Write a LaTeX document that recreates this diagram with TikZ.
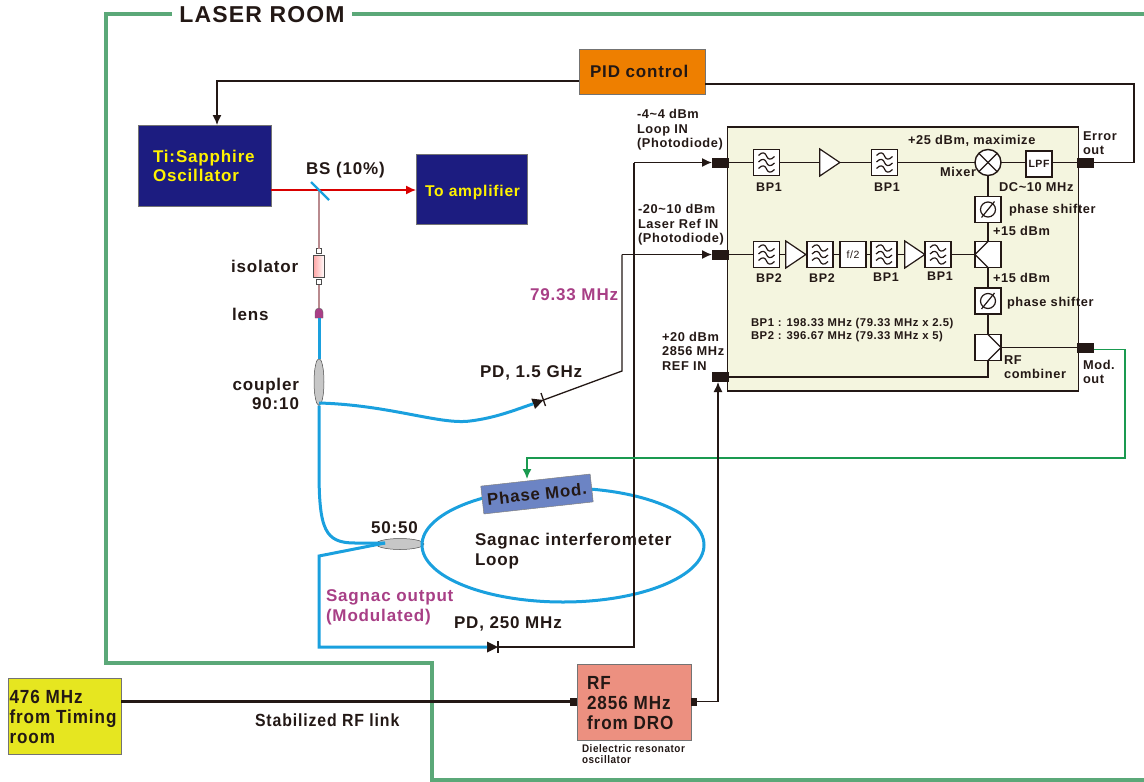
\documentclass[tikz,border=0pt]{standalone}
\usepackage{fontspec}
\setmainfont{Liberation Sans}[LetterSpace=5]
\newfontfamily\narrowf{Liberation Sans}[FakeStretch=0.9,LetterSpace=5]
\usetikzlibrary{arrows.meta,shapes.geometric,calc}
\definecolor{ink}{HTML}{231815}
\definecolor{room}{HTML}{5BA878}
\definecolor{fiber}{HTML}{1AA0DE}
\definecolor{navy}{HTML}{1C1C80}
\definecolor{modgreen}{HTML}{1A9A50}
\definecolor{plum}{HTML}{A83F86}
\definecolor{panel}{HTML}{F4F5DF}
\definecolor{phasec}{HTML}{6C84C4}
\definecolor{orng}{HTML}{EE7F00}
\definecolor{salmon}{HTML}{EC9080}
\definecolor{yell}{HTML}{E6E620}
\definecolor{pinkw}{HTML}{B98A8E}
\tikzset{
 x=1pt,y=-1pt,
 every node/.style={inner sep=0pt,outer sep=0pt},
 lab/.style={anchor=west,align=left,text=ink,font=\bfseries\fontsize{#1}{\fpeval{#1*1.14}}\selectfont},
 lab/.default=12.8,
 nlab/.style={anchor=west,align=left,text=ink,font=\narrowf\bfseries\fontsize{#1}{\fpeval{#1*1.03}}\selectfont},
 bpcap/.style={anchor=center,text=ink,font=\bfseries\fontsize{12.5}{14}\selectfont},
 wire/.style={draw=ink,line width=1.3pt},
 arr/.style={-{Latex[length=10pt,width=9pt]}},
 roomline/.style={draw=room,line width=4pt},
 fib/.style={draw=fiber,line width=3pt},
 colbox/.style={draw=black!55,line width=.8pt,rectangle,fill=#1},
 port/.style={rectangle,fill=ink,minimum width=17pt,minimum height=10pt},
 cell/.style={rectangle,draw=ink,line width=1.3pt,fill=white,minimum width=26pt,minimum height=26pt},
 filt/.style={cell,line width=1.8pt,path picture={
   \begin{scope}[shift={(path picture bounding box.center)},line width=1.2pt,ink]
   \foreach \d in {-6.5,0,6.5}
     \draw (-8,\d-.5) .. controls (-4,\d-5) and (-1,\d-3) .. (0,\d) .. controls (1,\d+3) and (4,\d+5) .. (8,\d+.5);
   \end{scope}}},
 phi/.style={cell,line width=1.8pt,path picture={
   \begin{scope}[shift={(path picture bounding box.center)},line width=1.2pt,ink]
   \draw (0,0) circle (7.5); \draw (-6.5,8) -- (6.5,-8);
   \end{scope}}},
 ampb/.style={isosceles triangle,isosceles triangle apex angle=65,isosceles triangle stretches,draw=ink,line width=1.2pt,fill=white,minimum width=27pt,minimum height=20pt},
 diode/.style={isosceles triangle,isosceles triangle apex angle=60,isosceles triangle stretches,fill=ink,minimum width=11pt,minimum height=11pt},
}
\begin{document}
\begin{tikzpicture}
\useasboundingbox (0,0) rectangle (1144,782);
% room outline
\node[lab=23,anchor=center,fill=white,minimum width=180pt,minimum height=26pt] (roomlab) at (262,15) {LASER ROOM};
\coordinate (rr1) at (106,13.5); \coordinate (rr2) at (106,663); \coordinate (rr3) at (432,663);
\coordinate (rr4) at (432,780); \coordinate (rr5) at (1144,780); \coordinate (rr6) at (1144,13.5);
\draw[roomline] (roomlab.west |- rr1) -- (rr1) -- (rr2) -- (rr3) -- (rr4) -- (rr5);
\draw[roomline] (roomlab.east |- rr6) -- (rr6);

% coloured boxes
\node[colbox=orng,minimum width=126pt,minimum height=45pt] (pid) at (642,71.5) {};
\node[lab=17] (pidt) at (590,71.5) {PID control};
\node[colbox=navy,minimum width=133pt,minimum height=81pt] (ti) at (204.5,165.5) {};
\node[lab=17,text=yellow] (tit) at (153,166) {Ti:Sapphire\\Oscillator};
\node[colbox=navy,minimum width=111pt,minimum height=70pt] (ampl) at (471.5,189) {};
\node[lab=15.6,text=yellow] (amplt) at (425,192) {To amplifier};

% PID loop wires
\coordinate (tiin) at (217,125);
\coordinate (pidl) at (579,81);
\coordinate (pidr) at (705,84);
\coordinate (errc) at (1134,84);

% beam path
\coordinate (bsc) at (319,190);
\coordinate (tiout) at (ti.east |- bsc);
\draw[draw=red!85!black,line width=1.3pt,arr] (tiout) -- (ampl.west |- bsc);
\node[rectangle,draw=black!70,line width=.5pt,fill=white,minimum size=5pt] (iso1) at (319,251) {};
\node[rectangle,draw=black!70,line width=.5pt,fill=white,minimum size=5pt] (iso2) at (319,282) {};
\node[rectangle,draw=black!70,line width=.6pt,left color=red!35,right color=white,minimum width=11pt,minimum height=22pt] (iso) at (319,266.5) {};
\coordinate (lenst) at (319,308);
\draw[draw=pinkw,line width=1.3pt] (bsc) -- (iso1.north);
\draw[draw=pinkw,line width=1.3pt] (iso2.south) -- (lenst);
\coordinate (bs1) at (311,182); \coordinate (bs2) at (329,200);
\draw[fib,line width=2.4pt] (bs1) -- (bs2);
\node[lab=17] (bstx) at (306,170) {BS (10\%)};
\node[lab=17] (isotx) at (231,266) {isolator};
\node[lab=17] (lenstx) at (232,314) {lens};
\node[lab=17,anchor=east,align=right] (couptx) at (299,394) {coupler\\90:10};

% fibres
\node[ellipse,draw=black!70,line width=.5pt,fill=black!22,minimum width=10pt,minimum height=47pt] (cp1) at (319,382) {};
\fill[plum,draw=black!60,line width=.4pt] (315,318) -- (315,312) arc[start angle=180,end angle=360,radius=4] -- (323,318) -- cycle;
\coordinate (lensb) at (319,318);
\draw[fib] (lensb) -- (cp1.north);
\node[ellipse,draw=black!70,line width=.5pt,fill=black!22,minimum width=48pt,minimum height=11pt] (cp2) at (400,544) {};
\node[ellipse,fib,minimum width=282pt,minimum height=114pt] (loopf) at (563,545) {};
\node[rectangle,draw=black!50,line width=.5pt,fill=phasec,minimum width=110pt,minimum height=28pt,rotate=6.3] (pm) at (537,494) {};
\node[lab=16.8,anchor=center,rotate=6.3] (pmt) at (537,494) {Phase Mod.};
\node[lab=17] (s50) at (371,528) {50:50};
\node[lab=17] (sagt) at (475,551) {Sagnac interferometer\\Loop};
\node[lab=17,text=plum] (sagout) at (326,607.5) {Sagnac output\\(Modulated)};
\node[lab=17,text=plum] (f79) at (530,295) {79.33 MHz};
\node[lab=17] (pd1t) at (480,373) {PD, 1.5 GHz};
\node[lab=17] (pd2t) at (454,624) {PD, 250 MHz};

\coordinate (j50) at (385,543);
\coordinate (f1) at (319,470);
\coordinate (f2) at (319,556);
\coordinate (f3) at (319,647);
\coordinate (fb0) at (319,403);
\coordinate (fb1) at (470,421);
\node[diode,rotate=20,anchor=apex] (pd1) at (543.5,400) {};
\node[diode,anchor=apex] (pd2) at (498,647) {};
\draw[fib,line join=round] (cp1.south) -- (f1) .. controls (319,530) and (325,543) .. (355,543) -- (j50);
\draw[fib,line join=miter] (j50) -- (f2) -- (f3) -- (pd2.west);
\draw[fib] (fb0) .. controls (390,405) and (440,425) .. (fb1) .. controls (495,418) and (515,410) .. (pd1.west);
\coordinate (pd1b1) at (541,393); \coordinate (pd1b2) at (545.5,406);
\coordinate (pd2b1) at (498,641); \coordinate (pd2b2) at (498,653);
\draw[wire] (pd1b1) -- (pd1b2);
\draw[wire] (pd2b1) -- (pd2b2);

% panel
\node[rectangle,draw=ink,line width=1.8pt,fill=panel,minimum width=351pt,minimum height=264pt] (panelb) at (903,259) {};
\node[port] (loopin) at (720.5,162.5) {};
\node[port] (refin) at (720.5,254.5) {};
\node[port] (rfin) at (720.5,377) {};
\node[port] (errout) at (1085.5,162.5) {};
\node[port] (modout) at (1085.5,347.5) {};

\coordinate (c622a) at (622,371);
\coordinate (c622b) at (622,254.5);
\coordinate (c634a) at (634,647);
\coordinate (c634b) at (634,162.5);
\draw[wire] (pd1.apex) -- (c622a) -- (c622b);
\draw[wire,arr] (c622b) -- (refin.west);
\draw[wire] (pd2.apex) -- (c634a) -- (c634b);
\draw[wire,arr] (c634b) -- (loopin.west);

% row 1
\node[filt] (f1a) at (766.5,162.5) {};
\node[ampb,anchor=center] (a1) at (827,162.5) {};
\node[filt] (f1b) at (884.5,162.5) {};
\node[circle,draw=ink,line width=1.4pt,fill=white,minimum size=26pt] (mix) at (988,162.5) {};
\draw[wire] (mix.45) -- (mix.225);
\draw[wire] (mix.135) -- (mix.315);
\node[cell,font=\bfseries\fontsize{10.5}{11}\selectfont,text=ink] (lpf) at (1039,164) {LPF};
\draw[wire] (loopin.east) -- (f1a.west);
\draw[wire] (f1a.east) -- (a1.west);
\draw[wire] (a1.apex) -- (f1b.west);
\draw[wire] (f1b.east) -- (mix.west);
\draw[wire] (mix.east) -- (mix.east -| lpf.west);
\draw[wire] (lpf.east |- mix.east) -- (errout.west);

% row 2
\node[filt] (f2a) at (766.5,254.5) {};
\node[ampb] (a2) at (793,254.5) {};
\node[filt] (f2b) at (820,254.5) {};
\node[cell,font=\fontsize{10.5}{11}\selectfont,text=ink] (div) at (853,254.5) {f/2};
\node[filt] (f2c) at (884,254.5) {};
\node[ampb] (a3) at (912,254.5) {};
\node[filt] (f2d) at (938,254.5) {};
\node[cell] (spl) at (988,254.5) {};
\node[phi] (ps1) at (988,209.5) {};
\node[phi] (ps2) at (988,301) {};
\node[cell] (cmb) at (988,347.5) {};
\draw[wire] (spl.west) -- (spl.north);
\draw[wire] (spl.west) -- (spl.south);
\draw[wire] (cmb.east) -- (cmb.north);
\draw[wire] (cmb.east) -- (cmb.south);
\draw[wire] (refin.east) -- (f2a.west);
\draw[wire] (f2a.east) -- (a2.west);
\draw[wire] (a2.apex) -- (f2b.west);
\draw[wire] (f2b.east) -- (div.west);
\draw[wire] (div.east) -- (f2c.west);
\draw[wire] (f2c.east) -- (a3.west);
\draw[wire] (a3.apex) -- (f2d.west);
\draw[wire] (f2d.east) -- (spl.west);
\draw[wire] (mix.south) -- (ps1.north);
\draw[wire] (ps1.south) -- (spl.north);
\draw[wire] (spl.south) -- (ps2.north);
\draw[wire] (ps2.south) -- (cmb.north);
\draw[wire] (cmb.south) |- (rfin.east);
\draw[wire] (cmb.east) -- (modout.west);

% PID loop wires
\draw[wire,arr] (pidl) -| (tiin);
\draw[wire] (pidr) -- (errc) |- (errout.east);

% panel text
\node[lab] (t25) at (908,141) {+25 dBm, maximize};
\node[lab] (tmix) at (940,172) {Mixer};
\node[bpcap] (c1) at (769,187) {BP1};
\node[bpcap] (c2) at (887,187) {BP1};
\node[bpcap] (c3) at (769,278) {BP2};
\node[bpcap] (c4) at (822,278) {BP2};
\node[bpcap] (c5) at (886,277) {BP1};
\node[bpcap] (c6) at (940,276) {BP1};
\node[lab] (tdc) at (999,187) {DC\char`\~10 MHz};
\node[lab] (tps1) at (1009,210) {phase shifter};
\node[lab] (tps2) at (1007,303) {phase shifter};
\node[lab] (t15a) at (993,231) {+15 dBm};
\node[lab] (t15b) at (993,278) {+15 dBm};
\node[lab=11.3] (tbp) at (751,330.5) {BP1 : 198.33 MHz (79.33 MHz x 2.5)\\BP2 : 396.67 MHz (79.33 MHz x 5)};
\node[lab] (trf) at (1004,367) {RF\\combiner};
\node[lab] (terr) at (1083,143) {Error\\out};
\node[lab] (tmod) at (1083,372) {Mod.\\out};
\node[lab] (tloop) at (637,130) {-4\char`\~4 dBm\\Loop IN\\(Photodiode)};
\node[lab] (tref) at (638,225) {-20\char`\~10 dBm\\Laser Ref IN\\(Photodiode)};
\node[lab] (trfin) at (662,351) {+20 dBm\\2856 MHz\\REF IN};

% green modulation line
\coordinate (g0) at (1094,349.5);
\coordinate (g1) at (1125,349.5);
\coordinate (g2) at (1125,458);
\coordinate (g3) at (527,458);
\coordinate (g4) at (527,479);
\draw[draw=modgreen,line width=1.5pt,arr] (g0) -- (g1) -- (g2) -- (g3) -- (g4);

% bottom
\node[colbox=yell,minimum width=113pt,minimum height=76pt] (t476) at (64.5,716) {};
\node[nlab=19] (t476t) at (9.5,717) {476 MHz\\from Timing\\room};
\node[colbox=salmon,minimum width=114pt,minimum height=76pt] (dro) at (634,702) {};
\node[nlab=19] (drot) at (587,703) {RF\\2856 MHz\\from DRO};
\node[rectangle,fill=ink,minimum width=7pt,minimum height=8pt] (droin) at (573.5,701.5) {};
\node[rectangle,fill=ink,minimum width=6pt,minimum height=8pt] (droout) at (694,701.5) {};
\draw[draw=ink,line width=3pt] (t476.east |- droin) -- (droin.west);
\coordinate (rfa) at (718,382);
\draw[wire,arr] (droout.east) -| (rfa);
\node[nlab=17.6] (stab) at (255,720) {Stabilized RF link};
\node[nlab=11] (diel) at (582,754) {Dielectric resonator\\oscillator};
\end{tikzpicture}
\end{document}
